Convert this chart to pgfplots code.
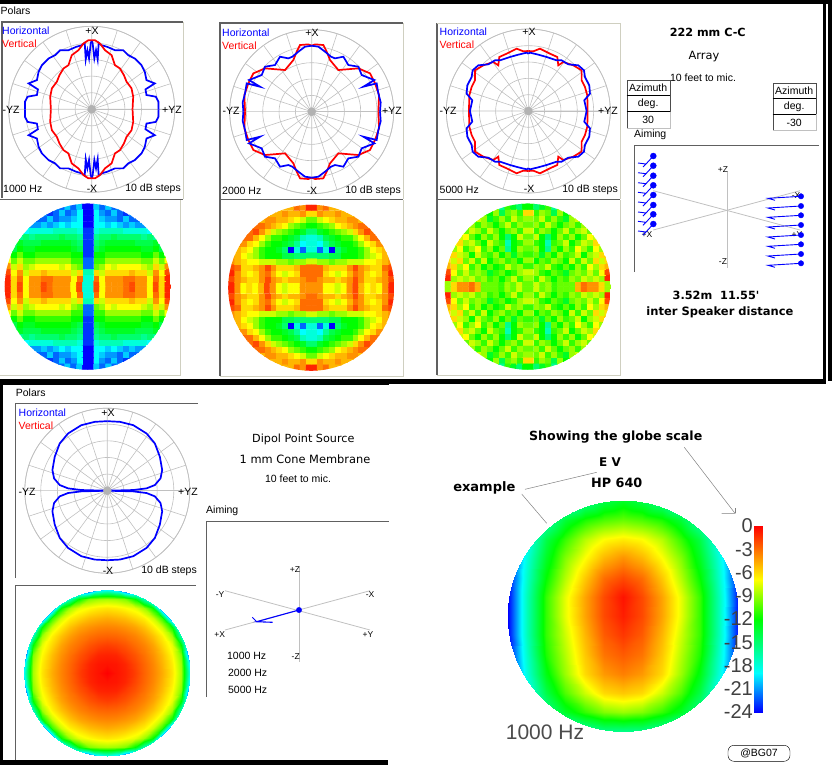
\documentclass[border=0pt]{standalone}
\usepackage{pgfplots}
\pgfplotsset{compat=1.18}
\usepackage{pgfplotstable}
\usepgfplotslibrary{polar}
\usepackage{fontspec}
\setmainfont{Liberation Sans}
\newfontfamily\djf{DejaVu Sans}
\newcommand\bfs[1]{\djf\bfseries\fontsize{#1}{14}\selectfont}
\newcommand\rgs[1]{\djf\fontsize{#1}{14}\selectfont}
\pgfplotsset{colormap={att}{rgb255(0pt)=(255,0,0); rgb255(7pt)=(255,255,0); rgb255(12pt)=(0,255,0); rgb255(19pt)=(0,255,255); rgb255(24pt)=(0,0,255)}}
\definecolor{gridg}{HTML}{C0C0C0}
\definecolor{bl}{RGB}{0,0,255}
\definecolor{rd}{RGB}{255,0,0}
\definecolor{pan}{HTML}{606060}
\definecolor{lite}{HTML}{CFCFC0}
% polar quadrants (dx dy from the centre)
\pgfplotstableread{
201 0
201 23
193 38
165 43
162 60
190 78
165 88
160 113
150 133
130 153
110 163
95 178
70 178
47 188
30 193
21 200
18 150
13 178
8 153
3 198
0 208
}\paH
\pgfplotstableread{
123 0
125 38
120 63
105 83
97 103
85 123
70 133
60 163
40 178
25 198
10 208
0 208
}\paV
\pgfplotstableread{
205 0
207 28
200 55
195 85
155 75
188 95
175 100
150 110
140 135
110 140
95 165
70 160
58 165
40 180
20 195
0 198
}\pbH
\pgfplotstableread{
200 0
202 50
190 85
175 115
140 130
80 125
55 155
45 180
35 200
10 202
0 198
}\pbV
\pgfplotstableread{
175 0
168 32
185 52
183 77
170 102
167 122
150 137
120 140
100 152
85 152
55 162
30 169
5 175
0 172
}\pcH
\pgfplotstableread{
178 0
177 47
170 72
160 92
160 122
135 137
105 147
90 137
87 162
65 172
35 187
15 179
0 180
}\pcV
\pgfplotstableread{
0 0
78 2
118 7
143 17
160 37
165 62
158 102
143 142
118 172
78 197
38 207
0 209
}\pdH
\newcommand\PQ[2]{%
\addplot[#1,line width=1.7pt,data cs=cart] table[header=false,x index=0,y index=1]{#2};
\addplot[#1,line width=1.7pt,data cs=cart] table[header=false,x expr=-\thisrowno{0},y index=1]{#2};
\addplot[#1,line width=1.7pt,data cs=cart] table[header=false,x index=0,y expr=-\thisrowno{1}]{#2};
\addplot[#1,line width=1.7pt,data cs=cart] table[header=false,x expr=-\thisrowno{0},y expr=-\thisrowno{1}]{#2};
}
\newcommand\Qd[1]{%
\addplot[matrix plot*,mesh/cols=14,point meta=explicit] table[header=false,x index=0,y index=0,x expr={mod(\coordindex,14)+0.5},y expr={floor((\coordindex+0.5)/14)+0.5},meta index=0]{#1};
\addplot[matrix plot*,mesh/cols=14,point meta=explicit] table[header=false,x index=0,y index=0,x expr={-mod(\coordindex,14)-0.5},y expr={floor((\coordindex+0.5)/14)+0.5},meta index=0]{#1};
\addplot[matrix plot*,mesh/cols=14,point meta=explicit] table[header=false,x index=0,y index=0,x expr={mod(\coordindex,14)+0.5},y expr={-floor((\coordindex+0.5)/14)-0.5},meta index=0]{#1};
\addplot[matrix plot*,mesh/cols=14,point meta=explicit] table[header=false,x index=0,y index=0,x expr={-mod(\coordindex,14)-0.5},y expr={-floor((\coordindex+0.5)/14)-0.5},meta index=0]{#1};
}
\pgfplotsset{polstyle/.style={scale only axis,anchor=center,width=#1pt,height=#1pt,xtick={0,18,...,342},ymin=0,xticklabels={},yticklabels={},major tick length=0pt,grid=both,major grid style={gridg,line width=0.6pt},axis line style={gridg,line width=0.7pt}}}
\pgfplotsset{glob/.style={scale only axis,anchor=center,hide axis,width=#1pt,height=#1pt,colormap name=att,point meta min=0,point meta max=24}}
% globe quadrants: attenuation in dB below the peak
\pgfplotstableread{
18
2
7
4
4
4
3
2
4
4
7
2
6
1
18
3
7
4
4
4
3
3
4
4
7
3
6
1
17
6
8
6
6
6
6
5
6
6
8
4
7
2
22
10
9
7
8
7
7
7
7
8
9
6
8
4
22
11
11
9
9
9
9
9
9
10
10
8
10
7
23
12
12
11
11
11
11
11
11
12
12
10
12
9
23
14
13
12
12
12
12
12
12
13
13
12
14
11
23
15
14
13
13
13
13
13
14
14
14
13
15
16
23
16
15
15
14
15
15
15
15
16
15
16
18
20
23
18
17
17
17
17
18
18
18
18
19
20
22
24
24
19
19
20
19
20
21
20
21
21
22
21
24
24
24
19
20
21
21
22
20
22
22
21
22
22
24
24
24
19
21
22
20
22
23
21
22
23
20
24
24
24
24
20
22
20
22
21
20
22
20
20
19
20
20
20
}\GlA
\pgfplotstableread{
4
4
7
7
8
7
4
2
5
7
6
7
4
1
3
4
5
5
6
5
4
2
4
6
6
5
4
2
3
3
6
7
8
7
5
3
4
6
7
6
4
1
3
3
5
6
6
6
4
2
4
5
6
6
3
2
8
9
9
10
9
9
8
8
8
7
7
6
5
4
15
15
15
14
14
12
12
12
11
9
8
7
5
4
18
22
18
24
15
13
12
12
11
9
7
6
5
4
18
19
16
14
13
12
12
11
9
7
6
4
4
4
18
17
14
13
12
11
11
9
7
5
3
3
4
4
15
13
12
11
10
9
8
6
4
2
3
5
8
10
12
11
10
9
7
6
5
4
3
3
5
8
12
12
10
8
7
6
5
5
4
4
5
6
8
12
12
12
6
4
5
5
4
5
5
5
6
8
12
12
12
12
1
4
3
5
5
5
6
7
12
12
12
12
12
12
}\GlB
\pgfplotstableread{
10
8
10
9
11
10
10
10
5
3
4
4
6
9
9
11
8
10
12
10
11
9
10
8
9
8
9
1
8
9
11
12
10
11
13
10
9
10
8
10
7
2
11
9
10
8
11
12
10
12
9
11
7
9
6
5
9
12
10
11
9
10
12
8
11
8
10
6
8
6
11
10
13
10
12
9
11
10
8
12
9
8
6
5
10
9
12
16
10
12
9
11
7
9
11
7
9
5
9
11
12
17
11
10
8
12
10
8
9
6
7
3
10
8
12
15
12
9
11
9
12
10
7
8
5
4
8
11
9
10
12
10
8
11
9
8
10
6
7
6
10
9
11
8
10
12
10
9
11
9
7
8
8
8
9
10
8
11
9
11
13
9
8
10
9
9
9
9
6
11
9
10
14
9
12
10
9
9
9
9
9
9
12
15
13
11
16
10
10
10
10
10
10
10
10
10
}\GlC
% dipole globe: 10 x 10 nodes, centre to rim
\pgfplotstableread{
0
0.5
0.9
1.7
2.7
3.6
4.7
6.3
8.7
18.6
0.5
0.6
1
1.9
2.8
3.7
4.9
6.5
8.9
20
0.9
1
1.6
2.3
3.1
4
5.2
6.9
9.5
24
1.7
1.9
2.3
3
3.6
4.5
5.9
7.5
12
24
2.7
2.8
3.1
3.6
4.3
5.3
6.6
8.9
17
24
3.6
3.7
4
4.5
5.3
6.5
8
12
24
24
4.7
4.9
5.2
5.9
6.6
8
11
24
24
24
6.3
6.5
6.9
7.5
8.9
12
24
24
24
24
8.7
8.9
9.5
12
17
24
24
24
24
24
18.6
20
24
24
24
24
24
24
24
24
}\GlD
% example globe: 7 columns x 13 rows
\pgfplotstableread{
13
14
16
19
24
24
24
10
10.5
11.5
13.5
17
22
24
6.5
7
8.5
11
14
19
24
4
5
7
9.5
13
18
24
2
3
5.5
8.5
12
17.5
24
0.5
2
4.5
7.5
11
17
24
0.8
2
4.5
7.5
11
17
24
1.5
2.5
5
8
11
17
24
2.5
3.2
5.5
8.5
11.5
17.5
24
3.5
4.2
6
9
12.5
18
24
5.5
6
8
10.5
14
19
24
9
9.5
11
13
16
21
24
16
16
17
19
24
24
24
}\GlE
\begin{document}
\begin{tikzpicture}[every node/.style={font=\fontsize{10.5}{12}\selectfont,inner sep=0pt}]
\path[use as bounding box] (0,0) rectangle (836pt,772pt);
% polars
\begin{polaraxis}[polstyle=166,at={(91.7pt,662.7pt)},ymax=250,ytick={50,100,150,200,250}]
\addplot[only marks,mark=*,mark size=4pt,color=gray!60,data cs=cart] coordinates {(0,0)};
\PQ{bl}{\paH}\PQ{rd}{\paV}
\end{polaraxis}
\begin{polaraxis}[polstyle=164,at={(311.7pt,660.3pt)},ymax=246,ytick={49,98,147,196,246}]
\addplot[only marks,mark=*,mark size=4pt,color=gray!60,data cs=cart] coordinates {(0,0)};
\PQ{rd}{\pbV}\PQ{bl}{\pbH}
\end{polaraxis}
\begin{polaraxis}[polstyle=164,at={(528.3pt,661pt)},ymax=246,ytick={49,98,147,196,246}]
\addplot[only marks,mark=*,mark size=4pt,color=gray!60,data cs=cart] coordinates {(0,0)};
\PQ{rd}{\pcV}\PQ{bl}{\pcH}
\end{polaraxis}
\begin{polaraxis}[polstyle=165,at={(107.3pt,281.3pt)},ymax=248,ytick={50,100,150,200,248}]
\addplot[only marks,mark=*,mark size=4pt,color=gray!60,data cs=cart] coordinates {(0,0)};
\PQ{bl}{\pdH}
\end{polaraxis}
% globes
\begin{scope}\clip (87.8pt,485.3pt) circle (83pt);
\begin{axis}[glob=166,at={(87.8pt,485.3pt)},xmin=-14,xmax=14,ymin=-14,ymax=14]\Qd{\GlA}\end{axis}
\end{scope}
\begin{scope}\clip (311.2pt,484.2pt) circle (83pt);
\begin{axis}[glob=166,at={(311.2pt,484.2pt)},xmin=-14,xmax=14,ymin=-14,ymax=14]\Qd{\GlB}\end{axis}
\end{scope}
\begin{scope}\clip (527.8pt,485.3pt) circle (83pt);
\begin{axis}[glob=166,at={(527.8pt,485.3pt)},xmin=-14,xmax=14,ymin=-14,ymax=14]\Qd{\GlC}\end{axis}
\end{scope}
\begin{scope}\clip (107pt,99pt) circle (83pt);
\begin{axis}[glob=166,at={(107pt,99pt)},xmin=-9,xmax=9,ymin=-9,ymax=9]
\addplot[surf,shader=interp,mesh/cols=10,point meta=explicit] table[header=false,x index=0,y index=0,x expr={mod(\coordindex,10)},y expr={floor((\coordindex+0.5)/10)},meta index=0]{\GlD};
\addplot[surf,shader=interp,mesh/cols=10,point meta=explicit] table[header=false,x index=0,y index=0,x expr={-mod(\coordindex,10)},y expr={floor((\coordindex+0.5)/10)},meta index=0]{\GlD};
\addplot[surf,shader=interp,mesh/cols=10,point meta=explicit] table[header=false,x index=0,y index=0,x expr={mod(\coordindex,10)},y expr={-floor((\coordindex+0.5)/10)},meta index=0]{\GlD};
\addplot[surf,shader=interp,mesh/cols=10,point meta=explicit] table[header=false,x index=0,y index=0,x expr={-mod(\coordindex,10)},y expr={-floor((\coordindex+0.5)/10)},meta index=0]{\GlD};
\end{axis}
\end{scope}
\begin{scope}\clip (623pt,156pt) circle (115.5pt);
\begin{axis}[glob=231,at={(623pt,156pt)},xmin=-6,xmax=6,ymin=0,ymax=12,y dir=reverse]
\addplot[surf,shader=interp,mesh/cols=7,point meta=explicit] table[header=false,x index=0,y index=0,x expr={mod(\coordindex,7)},y expr={floor((\coordindex+0.5)/7)},meta index=0]{\GlE};
\addplot[surf,shader=interp,mesh/cols=7,point meta=explicit] table[header=false,x index=0,y index=0,x expr={-mod(\coordindex,7)},y expr={floor((\coordindex+0.5)/7)},meta index=0]{\GlE};
\end{axis}
\end{scope}
% colour scale
\begin{axis}[scale only axis,anchor=south west,at={(754pt,60pt)},width=8pt,height=186pt,xmin=0,xmax=1,ymin=-24,ymax=0,axis line style={draw=none},xtick=\empty,ytick={-24,-21,...,0},yticklabels={-24,-21,-18,-15,-12,-9,-6,-3,0},major tick length=0pt,yticklabel style={font=\fontsize{20}{20}\selectfont,text=black!75,inner sep=1pt},colormap name=att,point meta min=0,point meta max=24]
\addplot[surf,shader=interp,mesh/cols=2,point meta=explicit] table[meta index=2]{
0 -24 24
1 -24 24
0 -19 19
1 -19 19
0 -12 12
1 -12 12
0 -7 7
1 -7 7
0 0 0
1 0 0
};
\end{axis}
% frame, labels and aiming diagrams in pixel coordinates
\begin{axis}[scale only axis,anchor=south west,at={(0pt,0pt)},width=836pt,height=772pt,xmin=0,xmax=836,ymin=0,ymax=772,y dir=reverse,hide axis,clip=false]
% black bands
\fill[black] (0,0) rectangle (832,4);
\fill[black] (823,0) rectangle (826,381);
\fill[black] (828,0) rectangle (832,381);
\fill[black] (0,379) rectangle (826,384);
\fill[black] (0,384) rectangle (389,385);
\fill[black] (0,380) rectangle (3,765);
\fill[black] (0,760) rectangle (388,765);
% panels
\draw[pan,line width=1.3pt] (2,198) -- (2,22) -- (183,22);
\draw[lite] (183,22) -- (183,199);
\draw[pan,line width=1.3pt] (0,199.5) -- (183,199.5);
\draw[lite] (180,200) -- (180,375) -- (0,375);
\draw[pan,line width=1.3pt] (220,376) -- (220,23) -- (403,23);
\draw[lite] (403,23) -- (403,199);
\draw[pan,line width=1.3pt] (220,199.5) -- (403,199.5);
\draw[lite] (403,200) -- (403,376) -- (220,376);
\draw[pan,line width=1.3pt] (437,375) -- (437,23);
\draw[lite] (437,23) -- (620,23) -- (620,199);
\draw[pan,line width=1.3pt] (437,199.5) -- (620,199.5);
\draw[lite] (620,200) -- (620,375) -- (437,375);
\draw[pan,line width=1.3pt] (15.7,578) -- (15.7,403.3) -- (198,403.3);
\draw[pan,line width=1.3pt] (15.7,760) -- (15.7,585.7) -- (196,585.7);
\draw[pan,line width=1.3pt] (634.3,272) -- (634.3,145.7) -- (819,145.7);
\draw[pan,line width=1.3pt] (206.5,697) -- (206.5,521.7) -- (389,521.7);
% polar labels
\node[anchor=west] at (0.5,11) {Polars};
\node[anchor=west,text=bl] at (2,31) {Horizontal};
\node[anchor=west,text=rd] at (2,44) {Vertical};
\node at (92,31) {+X};\node at (92,189) {-X};\node at (11,110) {-YZ};\node at (172,110) {+YZ};
\node[anchor=west] at (3,189) {1000 Hz};\node[anchor=east] at (181,189) {10 dB steps};
\node[anchor=west,text=bl] at (222,33) {Horizontal};
\node[anchor=west,text=rd] at (222,46) {Vertical};
\node at (312,33) {+X};\node at (312,191) {-X};\node at (231,111) {-YZ};\node at (392,111) {+YZ};
\node[anchor=west] at (222,191) {2000 Hz};\node[anchor=east] at (401,191) {10 dB steps};
\node[anchor=west,text=bl] at (439.5,32) {Horizontal};
\node[anchor=west,text=rd] at (439.5,45) {Vertical};
\node at (529,32) {+X};\node at (529,189) {-X};\node at (448,111) {-YZ};\node at (608,111) {+YZ};
\node[anchor=west] at (439.5,190) {5000 Hz};\node[anchor=east] at (618,190) {10 dB steps};
\node[anchor=west] at (15.7,393) {Polars};
\node[anchor=west,text=bl] at (18.5,412.7) {Horizontal};
\node[anchor=west,text=rd] at (18.5,425.7) {Vertical};
\node at (108,412.7) {+X};\node at (108,570.7) {-X};\node at (27,491.7) {-YZ};\node at (188,491.7) {+YZ};
\node[anchor=east] at (197,571) {10 dB steps};
% right block
\node[font=\bfs{11.2}] at (707.7,32.7) {222 mm C-C};
\node[font=\rgs{11.4}] at (704,56.5) {Array};
\node at (703,77.7) {10 feet to mic.};
\draw[black!70] (626.7,127.7) -- (626.7,80) -- (669.7,80) -- (669.7,111.7);
\draw[black,line width=0.8pt] (626.7,95) -- (669.7,95) (626.7,111.7) -- (669.7,111.7);
\draw[gridg] (669.7,111.7) -- (669.7,127.7) -- (626.7,127.7);
\node at (648.2,88) {Azimuth};\node at (648.2,104) {deg.};\node at (648.2,120) {30};
\draw[black!70] (772.7,130) -- (772.7,82.7) -- (815.7,82.7) -- (815.7,114.3);
\draw[black,line width=0.8pt] (772.7,98.3) -- (815.7,98.3) (772.7,114.3) -- (815.7,114.3);
\draw[gridg] (815.7,114.3) -- (815.7,130) -- (772.7,130);
\node at (794.2,90.5) {Azimuth};\node at (794.2,106.5) {deg.};\node at (794.2,122.5) {-30};
\node[anchor=west] at (634,135) {Aiming};
\addplot[gridg,line width=0.8pt] coordinates {(727.3,171.7) (727.3,267.7)};
\addplot[gridg,line width=0.8pt] coordinates {(653.3,190.7) (800,230)};
\addplot[gridg,line width=0.8pt] coordinates {(653.3,230) (800,190.7)};
\node[font=\fontsize{8.5}{10}\selectfont] at (723,170) {+Z};
\node[font=\fontsize{8.5}{10}\selectfont] at (723,262) {-Z};
\node[font=\fontsize{8.5}{10}\selectfont] at (647,235) {+X};
\node[font=\fontsize{8.5}{10}\selectfont] at (797,235) {+Y};
\node[font=\fontsize{8.5}{10}\selectfont] at (796,196) {-X};
\addplot[bl,line width=0.9pt,unbounded coords=jump] table {
653.3 156
646 164
638 163
nan nan
646 164
643 167
nan nan
653.3 165.7
646 173.7
638 172.7
nan nan
646 173.7
643 176.7
nan nan
653.3 175.7
646 183.7
638 182.7
nan nan
646 183.7
643 186.7
nan nan
653.3 185.3
646 193.3
638 192.3
nan nan
646 193.3
643 196.3
nan nan
653.3 195
646 203
638 202
nan nan
646 203
643 206
nan nan
653.3 205
646 213
638 212
nan nan
646 213
643 216
nan nan
653.3 214.3
646 222.3
638 221.3
nan nan
646 222.3
643 225.3
nan nan
653.3 224
646 232
638 231
nan nan
646 232
643 235
};
\addplot[bl,only marks,mark=*,mark size=3pt] table {
653.3 156
653.3 165.7
653.3 175.7
653.3 185.3
653.3 195
653.3 205
653.3 214.3
653.3 224
};
\addplot[bl,line width=0.9pt,unbounded coords=jump] table {
801 196.3
768 198.3
775 200.3
nan nan
801 206
768 208
775 210
nan nan
801 215.3
768 217.3
775 219.3
nan nan
801 225
768 227
775 229
nan nan
801 235
768 237
775 239
nan nan
801 244.3
768 246.3
775 248.3
nan nan
801 254
768 256
775 258
nan nan
801 263.3
768 265.3
775 267.3
};
\addplot[bl,only marks,mark=*,mark size=2.7pt] table {
801 196.3
801 206
801 215.3
801 225
801 235
801 244.3
801 254
801 263.3
};
\node[font=\bfs{11.3}] at (716,295) {3.52m\ \ 11.55'};
\node[font=\bfs{11.5}] at (720,312.7) {inter Speaker distance};
% dipole block
\node[font=\rgs{11.2}] at (303.3,439) {Dipol Point Source};
\node[font=\rgs{11.4}] at (305,459) {1 mm Cone Membrane};
\node at (298,479) {10 feet to mic.};
\node[anchor=west] at (206,511) {Aiming};
\addplot[gridg,line width=0.8pt] coordinates {(299.3,566.7) (299.3,661.7)};
\addplot[gridg,line width=0.8pt] coordinates {(225,590.7) (370,630)};
\addplot[gridg,line width=0.8pt] coordinates {(225,630) (370,590.7)};
\addplot[bl,line width=1.1pt] coordinates {(299,610) (256.7,621.7) (272.7,622.3)};
\addplot[bl,line width=0.9pt] coordinates {(256.7,621.7) (252.3,617.3)};
\addplot[bl,only marks,mark=*,mark size=2.7pt] coordinates {(299,610)};
\node[font=\fontsize{8.5}{10}\selectfont] at (295,570) {+Z};
\node[font=\fontsize{8.5}{10}\selectfont] at (295.7,657) {-Z};
\node[font=\fontsize{8.5}{10}\selectfont] at (220,595) {-Y};
\node[font=\fontsize{8.5}{10}\selectfont] at (370,595) {-X};
\node[font=\fontsize{8.5}{10}\selectfont] at (219.7,635) {+X};
\node[font=\fontsize{8.5}{10}\selectfont] at (368,635) {+Y};
\node at (246.7,656) {1000 Hz};\node at (247.7,673) {2000 Hz};\node at (247.7,689.5) {5000 Hz};
% example block
\node[font=\bfs{12.6}] at (615.7,437.3) {Showing the globe scale};
\node[font=\bfs{12}] at (610,461.7) {E V};
\node[font=\bfs{12.8}] at (616.7,482.7) {HP 640};
\node[font=\bfs{13}] at (484.3,487.7) {example};
\addplot[gray,line width=0.5pt] coordinates {(525,489.3) (596.7,472.3)};
\addplot[gray,line width=0.5pt] coordinates {(521.7,494) (546.7,523.3)};
\addplot[gray,line width=0.5pt] coordinates {(684.3,447.3) (735,513.3) (721.7,513.3)};
\addplot[gray,line width=0.5pt] coordinates {(735,513.3) (735,507.7)};
\node[font=\fontsize{21}{22}\selectfont,text=black!70] at (545,732.7) {1000 Hz};
\node[draw=black,rounded corners=6pt,minimum width=62pt,minimum height=16pt] at (759,753.3) {@BG07};
\end{axis}
\end{tikzpicture}
\end{document}
